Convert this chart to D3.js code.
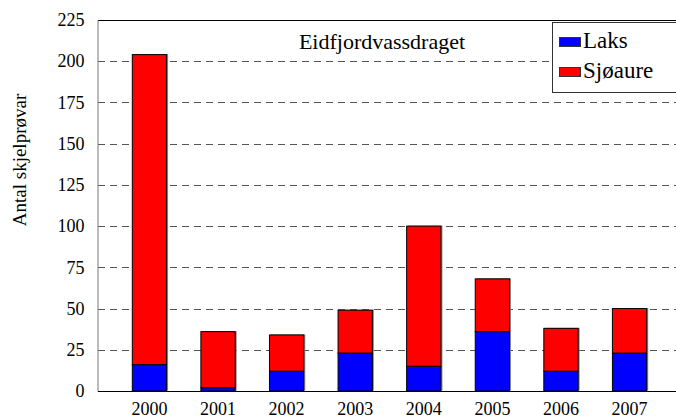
<!DOCTYPE html>
<html>
<head>
<meta charset="utf-8">
<script src="https://cdn.jsdelivr.net/npm/d3@7"></script>
<style>
  body { margin: 0; background: #fff; }
</style>
</head>
<body>
<div id="chart"></div>
<script>
// data
var years = ["2000", "2001", "2002", "2003", "2004", "2005", "2006", "2007"];
var laks = [16, 2, 12, 23, 15, 36, 12, 23];
var sjoaure = [188, 34, 22, 26, 85, 32, 26, 27];
var yTicks = [0, 25, 50, 75, 100, 125, 150, 175, 200, 225];
var seriesNames = ["Laks", "Sjøaure"];
var seriesColors = ["#0000ff", "#ff0000"];

var FONT = "'Liberation Serif', 'Times New Roman', serif";
var width = 676, height = 419;
var margin = {left: 98, top: 20, right: -5, bottom: 28};

var svg = d3.select("#chart").append("svg")
    .attr("width", width).attr("height", height);

var x = d3.scaleBand()
    .domain(years)
    .range([margin.left, width - margin.right])
    .padding(0.5);

var y = d3.scaleLinear()
    .domain([0, 225])
    .range([height - margin.bottom, margin.top]);

// dashed grid lines
svg.append("g")
    .selectAll("line")
    .data(yTicks.filter(function(d) { return d > 0 && d < 225; }))
    .enter().append("line")
    .attr("x1", margin.left).attr("x2", width)
    .attr("y1", function(d) { return Math.round(y(d)) + 0.5; })
    .attr("y2", function(d) { return Math.round(y(d)) + 0.5; })
    .attr("stroke", "#555")
    .attr("stroke-dasharray", "7,5");

// top border
svg.append("line")
    .attr("x1", margin.left).attr("x2", width)
    .attr("y1", y(225) + 0.5).attr("y2", y(225) + 0.5)
    .attr("stroke", "#000");

// y axis
var yAxis = svg.append("g")
    .attr("transform", "translate(" + (margin.left - 0.5) + ",0)")
    .call(d3.axisLeft(y).tickValues(yTicks).tickSize(0).tickPadding(13))
    .attr("font-family", FONT)
    .attr("font-size", 18);
yAxis.select(".domain").attr("stroke", "#777");
yAxis.selectAll("text").attr("fill", "#000");

// stacked bars
var stackData = years.map(function(yr, i) { return {year: yr, Laks: laks[i], "Sjøaure": sjoaure[i]}; });
var stacked = d3.stack().keys(seriesNames)(stackData);

var layers = svg.append("g").selectAll("g")
    .data(stacked)
    .enter().append("g")
    .attr("fill", function(d, i) { return seriesColors[i]; });

// shadow
layers.selectAll("rect.shadow")
    .data(function(d) { return d; })
    .enter().append("rect")
    .attr("class", "shadow")
    .attr("x", function(d) { return x(d.data.year) + 1.5; })
    .attr("y", function(d) { return y(d[1]) - 0.5; })
    .attr("width", x.bandwidth())
    .attr("height", function(d) { return y(d[0]) - y(d[1]); })
    .attr("fill", "#888");

layers.selectAll("rect.bar")
    .data(function(d) { return d; })
    .enter().append("rect")
    .attr("class", "bar")
    .attr("x", function(d) { return x(d.data.year); })
    .attr("y", function(d) { return y(d[1]); })
    .attr("width", x.bandwidth())
    .attr("height", function(d) { return y(d[0]) - y(d[1]); })
    .attr("stroke", "#000")
    .attr("stroke-width", 1);

// x axis
var xAxis = svg.append("g")
    .attr("transform", "translate(0," + (y(0) + 0.5) + ")")
    .call(d3.axisBottom(x).tickSize(0).tickPadding(11))
    .attr("font-family", FONT)
    .attr("font-size", 18);
xAxis.select(".domain").attr("stroke", "#000").attr("d", "M" + margin.left + ",0H" + width);
xAxis.selectAll("text").attr("fill", "#000");

// y label
svg.append("text")
    .attr("transform", "translate(26,160) rotate(-90)")
    .attr("text-anchor", "middle")
    .attr("font-family", FONT)
    .attr("font-size", 19)
    .text("Antal skjelprøvar");

// title
svg.append("text")
    .attr("x", 382).attr("y", 49)
    .attr("text-anchor", "middle")
    .attr("font-family", FONT)
    .attr("font-size", 22)
    .text("Eidfjordvassdraget");

// legend
var legend = svg.append("g");
legend.append("rect")
    .attr("x", 552.5).attr("y", 22.5)
    .attr("width", 140).attr("height", 70)
    .attr("fill", "#fff").attr("stroke", "#333");
var items = legend.selectAll("g.item")
    .data(seriesNames)
    .enter().append("g")
    .attr("class", "item")
    .attr("transform", function(d, i) { return "translate(559," + (37 + i * 30) + ")"; });
items.append("rect")
    .attr("x", 0.5).attr("y", 0.5)
    .attr("width", 21).attr("height", 9)
    .attr("fill", function(d, i) { return seriesColors[i]; })
    .attr("stroke", "#333");
items.append("text")
    .attr("x", 24).attr("y", 11)
    .attr("font-family", FONT)
    .attr("font-size", 23)
    .text(function(d) { return d; });
</script>
</body>
</html>
